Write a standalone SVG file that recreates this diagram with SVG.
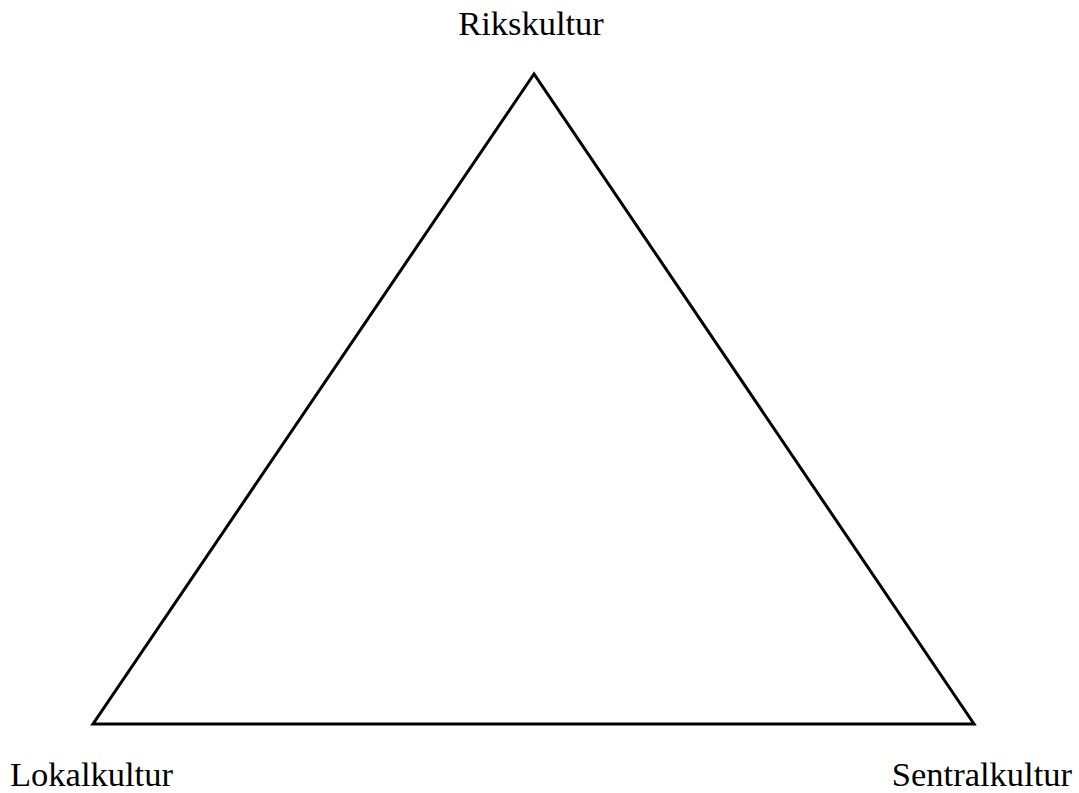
<svg xmlns="http://www.w3.org/2000/svg" width="1079" height="793" viewBox="0 0 1079 793">
<style>
.lbl{font-family:"Liberation Serif","Times New Roman",serif;font-size:34.5px;fill:#000}
.edge{fill:none;stroke:#000;stroke-width:3;stroke-linejoin:miter}
</style>
<rect width="1079" height="793" fill="#fff"/>
<g id="connectors">
<polygon class="edge" points="534,74 93,724 974,724"/>
</g>
<g id="rikskultur"><text class="lbl" x="531" y="35" text-anchor="middle">Rikskultur</text></g>
<g id="lokalkultur"><text class="lbl" x="10" y="786">Lokalkultur</text></g>
<g id="sentralkultur"><text class="lbl" x="1072" y="786" text-anchor="end">Sentralkultur</text></g>
</svg>
